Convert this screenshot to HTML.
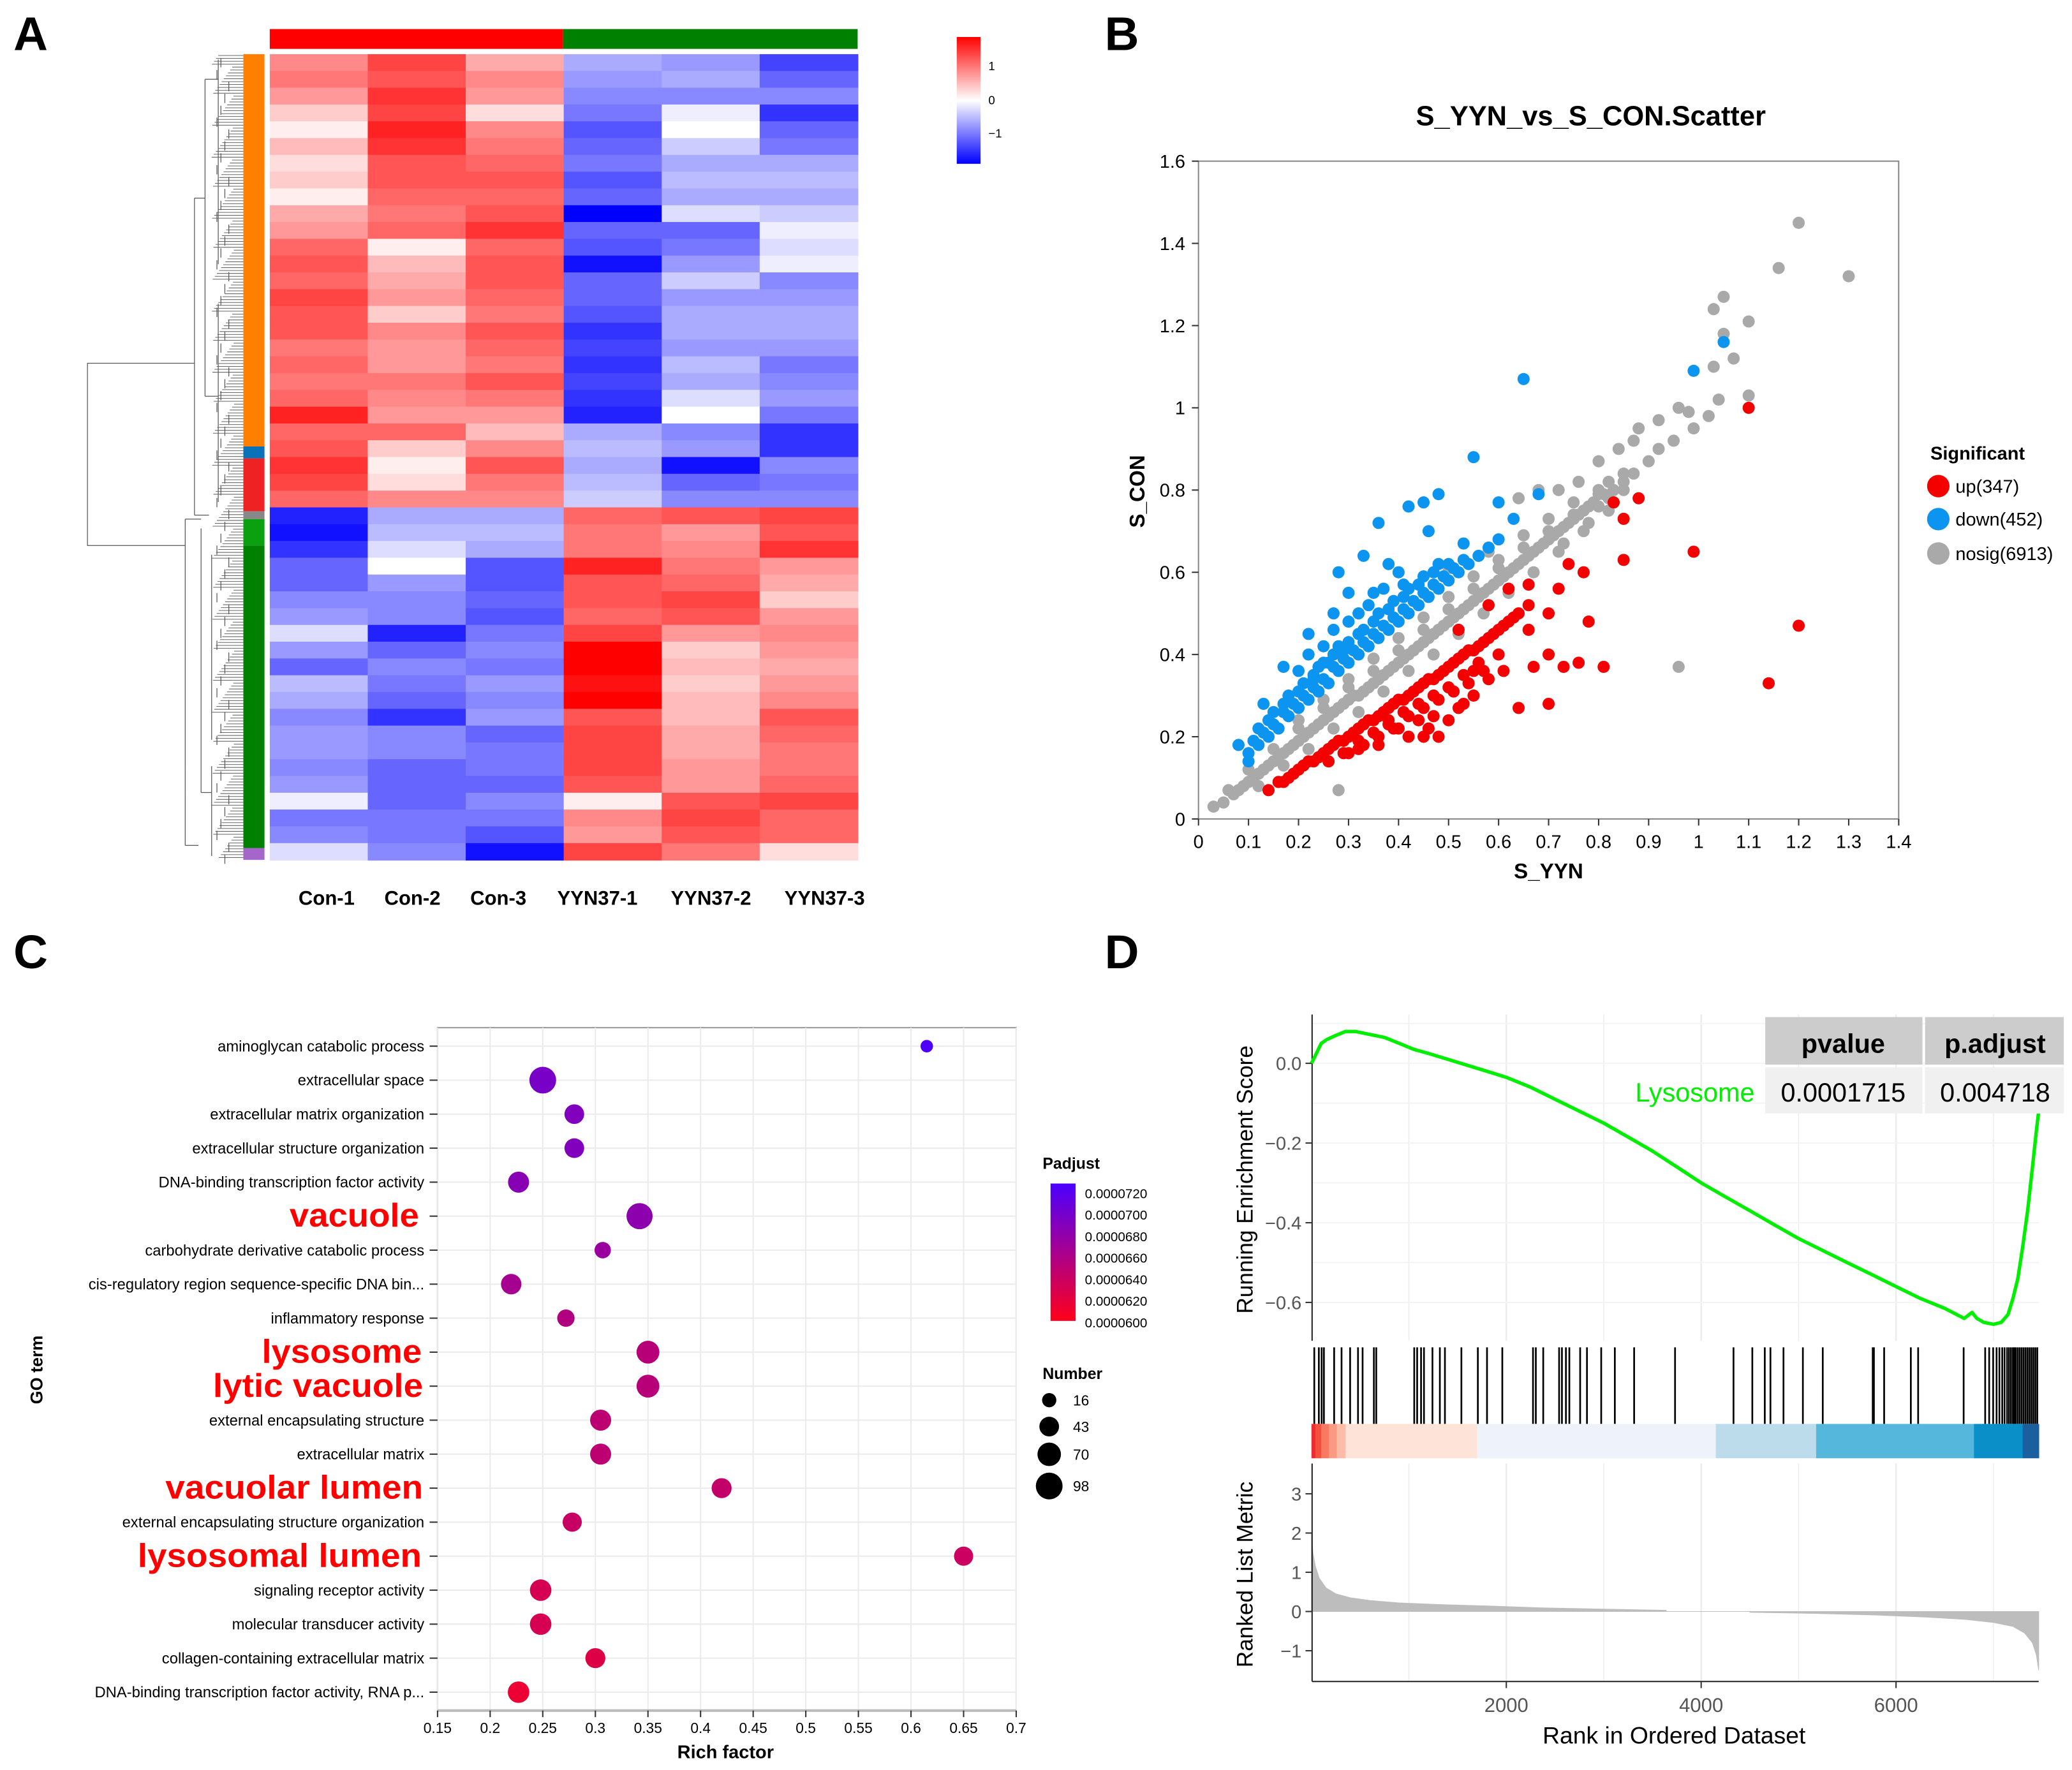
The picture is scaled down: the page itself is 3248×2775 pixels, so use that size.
<!DOCTYPE html>
<html><head><meta charset="utf-8">
<style>
html,body{margin:0;padding:0;background:#fff;}
svg{display:block;font-family:"Liberation Sans",sans-serif;}
</style></head>
<body>
<svg id="fig" width="3248" height="2775" viewBox="0 0 1568 1340" xmlns="http://www.w3.org/2000/svg">
<rect x="0" y="0" width="1568" height="1340" fill="#fff"/>
<g font-weight="bold" font-size="36" fill="#000">
<text x="10" y="38">A</text>
<text x="836" y="38">B</text>
<text x="10" y="733">C</text>
<text x="836" y="733">D</text>
</g>
<g id="pA"></g>
<g id="pB"></g>
<g id="pC"></g>
<g id="pD"></g>
</svg>
<script>
// ---------- Panel A data ----------
const heatSamples = ["Con-1","Con-2","Con-3","YYN37-1","YYN37-2","YYN37-3"];
const heatRows = [
[0.7,1.1,0.5,-0.5,-0.6,-1.1],[0.8,1.0,0.7,-0.6,-0.5,-0.9],[0.6,1.2,0.6,-0.7,-0.7,-0.7],
[0.3,1.1,0.2,-0.8,-0.1,-1.2],[0.1,1.3,0.7,-1.0,0.0,-0.9],[0.4,1.2,0.8,-0.9,-0.3,-0.8],
[0.2,1.0,0.9,-0.8,-0.5,-0.5],[0.3,1.0,1.0,-1.0,-0.4,-0.4],[0.1,0.9,0.9,-0.9,-0.5,-0.5],
[0.5,0.8,1.0,-1.5,-0.2,-0.3],[0.6,0.9,1.2,-0.9,-0.9,-0.1],[0.9,0.1,0.9,-1.0,-0.8,-0.2],
[1.0,0.4,1.0,-1.4,-0.6,-0.1],[0.9,0.5,1.0,-0.9,-0.3,-0.7],[1.1,0.6,0.9,-0.9,-0.6,-0.6],
[1.0,0.3,0.8,-1.0,-0.5,-0.5],[1.0,0.7,1.0,-1.2,-0.5,-0.5],[0.8,0.6,0.9,-1.1,-0.6,-0.6],
[0.9,0.6,0.8,-1.2,-0.4,-0.8],[0.8,0.8,1.0,-1.1,-0.5,-0.7],[0.9,0.7,0.8,-1.2,-0.2,-0.6],
[1.3,0.6,0.6,-1.3,0.0,-0.8],[0.9,0.9,0.4,-0.5,-0.7,-1.2],[1.0,0.3,0.7,-0.4,-0.6,-1.2],
[1.2,0.1,1.0,-0.5,-1.4,-0.7],[1.1,0.2,0.8,-0.4,-0.9,-0.8],[0.9,0.7,0.7,-0.3,-0.7,-0.7],
[-1.3,-0.5,-0.5,0.9,1.0,1.1],[-1.4,-0.4,-0.4,0.8,0.6,1.0],[-1.2,-0.2,-0.5,0.8,0.7,1.2],
[-0.9,0.0,-1.0,1.3,0.8,0.6],[-0.9,-0.6,-1.0,1.0,0.9,0.5],[-0.7,-0.7,-0.9,1.0,1.1,0.3],
[-0.6,-0.7,-1.0,0.9,1.0,0.6],[-0.2,-1.3,-0.8,1.1,0.6,0.7],[-0.6,-0.9,-0.7,1.5,0.3,0.6],
[-0.9,-0.7,-0.8,1.5,0.4,0.5],[-0.4,-0.8,-0.6,1.4,0.3,0.6],[-0.5,-0.9,-0.7,1.5,0.4,0.7],
[-0.7,-1.2,-0.6,1.0,0.4,1.0],[-0.6,-0.7,-0.9,1.1,0.5,0.9],[-0.6,-0.7,-0.8,1.1,0.5,0.8],
[-0.7,-0.9,-0.8,1.1,0.6,0.8],[-0.6,-0.9,-0.9,1.0,0.6,0.9],[-0.1,-0.9,-0.7,0.1,1.0,1.1],
[-0.8,-0.8,-0.8,0.7,1.1,0.9],[-0.7,-0.8,-1.0,0.6,1.0,0.9],[-0.2,-0.7,-1.4,1.1,0.8,0.2]
];
// ---------- Panel B data ----------
const grayPts = [[0.03,0.03],[0.05,0.04],[0.07,0.06],[0.09,0.08],[0.11,0.1],[0.13,0.12],[0.15,0.14],[0.17,0.16],[0.19,0.18],[0.21,0.2],[0.23,0.22],[0.25,0.24],[0.27,0.26],[0.29,0.28],[0.31,0.3],[0.33,0.31],[0.35,0.33],[0.37,0.35],[0.39,0.37],[0.41,0.39],[0.43,0.41],[0.45,0.43],[0.47,0.45],[0.49,0.47],[0.51,0.49],[0.53,0.51],[0.55,0.53],[0.57,0.55],[0.59,0.57],[0.61,0.59],[0.63,0.61],[0.65,0.63],[0.67,0.65],[0.69,0.67],[0.71,0.69],[0.73,0.71],[0.75,0.73],[0.77,0.75],[0.79,0.77],[0.81,0.79],[0.83,0.8],[0.85,0.82],[0.87,0.84],[0.9,0.87],
[0.1,0.12],[0.15,0.17],[0.2,0.22],[0.25,0.27],[0.3,0.32],[0.35,0.36],[0.4,0.41],[0.45,0.46],[0.5,0.51],[0.55,0.56],[0.6,0.61],[0.65,0.66],[0.7,0.7],[0.75,0.74],[0.8,0.79],[0.85,0.84],
[0.12,0.08],[0.17,0.13],[0.22,0.17],[0.27,0.22],[0.32,0.26],[0.37,0.31],[0.42,0.36],[0.47,0.4],[0.52,0.45],[0.57,0.5],[0.62,0.55],[0.67,0.6],[0.72,0.65],[0.77,0.7],[0.82,0.75],
[0.06,0.07],[0.08,0.07],[0.1,0.09],[0.12,0.11],[0.14,0.13],[0.16,0.15],[0.18,0.17],[0.2,0.19],[0.22,0.21],[0.24,0.23],[0.26,0.25],[0.28,0.27],[0.3,0.29],[0.32,0.3],[0.34,0.32],[0.36,0.34],[0.38,0.36],[0.4,0.38],[0.42,0.4],[0.44,0.42],[0.46,0.44],[0.48,0.46],[0.5,0.48],[0.52,0.5],[0.54,0.52],[0.56,0.54],[0.58,0.56],[0.6,0.58],[0.62,0.6],[0.64,0.62],[0.66,0.64],[0.68,0.66],[0.7,0.68],[0.72,0.7],[0.74,0.72],[0.76,0.74],[0.78,0.76],[0.8,0.76],[0.82,0.78],
[0.2,0.24],[0.3,0.34],[0.4,0.44],[0.5,0.54],[0.6,0.63],[0.7,0.73],[0.8,0.8],[0.65,0.69],[0.55,0.59],[0.45,0.49],[0.35,0.39],[0.25,0.29],[0.75,0.77],[0.85,0.8],[0.78,0.72],[0.73,0.67],[0.83,0.77],
[0.28,0.07],[0.96,0.37],[0.92,0.9],[0.95,0.92],[0.99,0.95],[1.02,0.98],[1.04,1.02],[1.1,1.03],[1.03,1.1],[1.07,1.12],[1.05,1.18],[1.1,1.21],[1.03,1.24],[1.05,1.27],[1.16,1.34],[1.2,1.45],[1.3,1.32],[0.98,0.99],[0.64,0.78],[0.68,0.8],[0.72,0.8],[0.76,0.82],[0.8,0.87],[0.84,0.9],[0.88,0.95],[0.92,0.97],[0.96,1.0],[0.87,0.92],[0.82,0.82],[0.58,0.65],[0.5,0.61]];
const bluePts = [[0.1,0.16],[0.12,0.18],[0.14,0.2],[0.16,0.22],[0.18,0.25],[0.2,0.27],[0.22,0.29],[0.24,0.31],[0.26,0.33],[0.28,0.36],[0.3,0.38],[0.32,0.4],[0.34,0.42],[0.36,0.44],[0.38,0.46],[0.4,0.48],[0.42,0.5],[0.44,0.52],[0.46,0.54],[0.48,0.56],[0.5,0.58],[0.52,0.6],[0.54,0.62],[0.12,0.22],[0.15,0.26],[0.18,0.3],[0.21,0.33],[0.24,0.37],[0.27,0.4],[0.3,0.43],[0.33,0.46],[0.36,0.5],[0.39,0.53],[0.42,0.56],[0.45,0.59],[0.48,0.62],[0.25,0.42],[0.3,0.48],[0.35,0.55],[0.4,0.6],[0.23,0.35],[0.28,0.42],
[0.11,0.19],[0.13,0.21],[0.15,0.23],[0.17,0.26],[0.19,0.28],[0.21,0.3],[0.23,0.32],[0.25,0.34],[0.27,0.37],[0.29,0.39],[0.31,0.41],[0.33,0.43],[0.35,0.45],[0.37,0.47],[0.39,0.49],[0.41,0.51],[0.43,0.53],[0.45,0.55],[0.47,0.57],[0.49,0.59],[0.51,0.61],[0.53,0.63],[0.14,0.24],[0.17,0.28],[0.2,0.31],[0.23,0.34],[0.26,0.38],[0.29,0.41],[0.32,0.45],[0.35,0.48],[0.38,0.51],[0.41,0.54],[0.44,0.57],[0.47,0.6],[0.5,0.62],[0.2,0.36],[0.25,0.38],[0.32,0.5],[0.37,0.56],[0.27,0.46],[0.22,0.4],[0.34,0.52],[0.56,0.64],[0.58,0.66],[0.6,0.68],
[0.65,1.07],[0.55,0.88],[1.05,1.16],[0.99,1.09],[0.42,0.76],[0.45,0.77],[0.48,0.79],[0.36,0.72],[0.33,0.64],[0.28,0.6],[0.27,0.5],[0.22,0.45],[0.17,0.37],[0.13,0.28],[0.08,0.18],[0.38,0.62],[0.46,0.7],[0.6,0.77],[0.63,0.73],[0.68,0.79],[0.53,0.67],[0.41,0.57],[0.3,0.55],[0.1,0.14]];
const redPts = [[0.18,0.1],[0.2,0.12],[0.22,0.14],[0.24,0.15],[0.26,0.17],[0.28,0.19],[0.3,0.2],[0.32,0.22],[0.34,0.24],[0.36,0.25],[0.38,0.27],[0.4,0.29],[0.42,0.3],[0.44,0.32],[0.46,0.34],[0.48,0.35],[0.5,0.37],[0.52,0.39],[0.54,0.41],[0.56,0.42],[0.58,0.44],[0.6,0.46],[0.62,0.48],[0.64,0.5],[0.66,0.52],
[0.3,0.16],[0.33,0.18],[0.36,0.2],[0.39,0.22],[0.42,0.25],[0.45,0.27],[0.48,0.29],[0.51,0.31],[0.54,0.33],[0.57,0.36],[0.4,0.22],[0.45,0.2],[0.5,0.24],[0.55,0.3],[0.47,0.25],[0.53,0.28],[0.14,0.07],[0.16,0.09],
[0.17,0.09],[0.19,0.11],[0.21,0.13],[0.23,0.14],[0.25,0.16],[0.27,0.18],[0.29,0.19],[0.31,0.21],[0.33,0.23],[0.35,0.24],[0.37,0.26],[0.39,0.28],[0.41,0.29],[0.43,0.31],[0.45,0.33],[0.47,0.34],[0.49,0.36],[0.51,0.38],[0.53,0.4],[0.55,0.41],[0.57,0.43],[0.59,0.45],[0.61,0.47],[0.63,0.49],[0.26,0.14],[0.29,0.16],[0.32,0.19],[0.35,0.21],[0.38,0.23],[0.41,0.26],[0.44,0.28],[0.47,0.3],[0.5,0.32],[0.53,0.35],[0.56,0.38],[0.36,0.18],[0.42,0.2],[0.38,0.24],[0.44,0.24],[0.46,0.22],[0.52,0.27],[0.58,0.34],[0.55,0.36],
[1.1,1.0],[1.2,0.47],[1.14,0.33],[0.99,0.65],[0.83,0.77],[0.88,0.78],[0.85,0.73],[0.85,0.63],[0.78,0.48],[0.76,0.38],[0.73,0.37],[0.81,0.37],[0.7,0.4],[0.67,0.37],[0.64,0.27],[0.7,0.28],[0.61,0.36],[0.66,0.46],[0.7,0.5],[0.72,0.56],[0.77,0.6],[0.74,0.62],[0.66,0.57],[0.62,0.56],[0.58,0.52],[0.52,0.46],[0.48,0.2],[0.32,0.17],[0.6,0.4]];
const xTicksB = [0,0.1,0.2,0.3,0.4,0.5,0.6,0.7,0.8,0.9,1,1.1,1.2,1.3,1.4];
const yTicksB = [0,0.2,0.4,0.6,0.8,1,1.2,1.4,1.6];
// ---------- Panel C data ----------
const goTerms = ["aminoglycan catabolic process","extracellular space","extracellular matrix organization","extracellular structure organization","DNA-binding transcription factor activity","vacuole","carbohydrate derivative catabolic process","cis-regulatory region sequence-specific DNA bin...","inflammatory response","lysosome","lytic vacuole","external encapsulating structure","extracellular matrix","vacuolar lumen","external encapsulating structure organization","lysosomal lumen","signaling receptor activity","molecular transducer activity","collagen-containing extracellular matrix","DNA-binding transcription factor activity, RNA p..."];
const goHighlight = [0,0,0,0,0,1,0,0,0,1,1,0,0,1,0,1,0,0,0,0];
const richFactor = [0.615,0.25,0.28,0.28,0.227,0.342,0.307,0.22,0.272,0.35,0.35,0.305,0.305,0.42,0.278,0.65,0.248,0.248,0.3,0.227];
const geneNumber = [10,98,43,43,52,92,25,48,30,65,65,52,52,45,40,40,55,55,45,55];
const padjust = [0.0000718,0.0000690,0.0000685,0.0000685,0.0000680,0.0000676,0.0000668,0.0000660,0.0000652,0.0000648,0.0000648,0.0000645,0.0000645,0.0000640,0.0000637,0.0000635,0.0000628,0.0000628,0.0000622,0.0000612];
const xTicksC = [0.15,0.2,0.25,0.3,0.35,0.4,0.45,0.5,0.55,0.6,0.65,0.7];
const padjTicks = ["0.0000720","0.0000700","0.0000680","0.0000660","0.0000640","0.0000620","0.0000600"];
const numberLegend = [16,43,70,98];
// ---------- Panel D data ----------
const esRank = [0,40,100,160,250,350,450,550,650,750,900,1050,1200,1400,1600,1800,2000,2250,2500,2750,3000,3250,3500,3750,4000,4250,4500,4750,5000,5250,5500,5750,6000,6250,6500,6700,6780,6830,6900,7000,7080,7150,7200,7250,7300,7350,7400,7440,7465];
const esScore = [0.0,0.02,0.05,0.06,0.07,0.08,0.08,0.075,0.07,0.065,0.05,0.035,0.025,0.01,-0.005,-0.02,-0.035,-0.06,-0.09,-0.12,-0.15,-0.185,-0.22,-0.26,-0.3,-0.335,-0.37,-0.405,-0.44,-0.47,-0.5,-0.53,-0.56,-0.59,-0.615,-0.64,-0.625,-0.64,-0.65,-0.655,-0.65,-0.63,-0.59,-0.54,-0.46,-0.37,-0.26,-0.17,-0.12];
const hitRanks = [29,76,105,128,233,309,397,478,525,641,665,1055,1085,1125,1155,1242,1318,1370,1539,1708,1802,1959,2274,2303,2379,2542,2571,2612,2647,2758,2828,2974,3114,3312,3732,4332,4525,4653,4711,4845,5044,5248,5761,5773,5878,6152,6227,6694,6915,6956,6997,7032,7061,7090,7114,7140,7160,7180,7200,7215,7230,7250,7270,7290,7310,7330,7350,7370,7390,7410,7430,7450];
const bandStart = [0,40,100,180,260,350,1700,4150,5180,6800,7300];
const bandColor = ["#ee2b30","#f4503e","#f97a62","#fb9a82","#fcbca6","#fde3d8","#eef3fb","#bcdcec","#55b7dc","#0b8fc8","#1b5f9f"];
const metricRank = [0,15,40,80,150,250,400,600,900,1300,1800,2400,3000,3640,3641,4499,4500,5200,5800,6300,6700,7000,7200,7320,7400,7440,7465];
const metricVal = [2.0,1.5,1.15,0.85,0.6,0.45,0.35,0.28,0.22,0.18,0.14,0.09,0.06,0.03,0,0,-0.02,-0.05,-0.09,-0.14,-0.2,-0.28,-0.38,-0.55,-0.8,-1.1,-1.5];
const rankTicks = [2000,4000,6000];
const esTicks = [0.0,-0.2,-0.4,-0.6];
const metricTicks = [3,2,1,0,-1];

const NS="http://www.w3.org/2000/svg";
function mk(parent,tag,attrs,txt){const e=document.createElementNS(NS,tag);for(const k in attrs)e.setAttribute(k,attrs[k]);if(txt!==undefined)e.textContent=txt;parent.appendChild(e);return e;}

// ===== Panel A =====
(function(){
const g=document.getElementById('pA');
const x0=204,x1=649,y0=41,y1=651;
const cw=(x1-x0)/heatSamples.length, rh=(y1-y0)/heatRows.length;
function col(v){v=Math.max(-1.5,Math.min(1.5,v))/1.5;const t=Math.abs(v);const w=Math.round(255*(1-t));return v>=0?`rgb(255,${w},${w})`:`rgb(${w},${w},255)`;}
heatRows.forEach((row,i)=>{row.forEach((v,j)=>{
 const r=mk(g,'rect',{x:x0+j*cw,y:y0+i*rh,width:cw+0.5,height:rh+0.5,fill:col(v)});
 
 
});});
let t=mk(g,'rect',{x:204,y:22,width:222,height:15,fill:'#ff0000'});
t=mk(g,'rect',{x:426,y:22,width:223,height:15,fill:'#008000'});
const side=[[41,338,'#ff8000'],[338,347,'#0a72b8'],[347,387,'#ee2222'],[387,393,'#888'],[393,413,'#0aa010'],[413,642,'#008000'],[642,651,'#a466c8']];
side.forEach(s=>{const r=mk(g,'rect',{x:184,y:s[0],width:16,height:s[1]-s[0],fill:s[2]});});
const d=mk(g,'g',{stroke:'#555','stroke-width':0.6,fill:'none'});
mk(d,'path',{d:'M147,275 H66 V413 H140 M147,150 V390 M140,393 V640 M147,150 H155 M147,390 H158 M140,393 H152 M140,640 H150 M155,60 V300 M152,400 V600 M155,60 H165 M155,300 H165 M152,600 H160 M165,45 V200 M165,230 V380 M160,420 V560 M160,580 V648'});
for(let y=42;y<651;y+=2.2){const L=160+((y*7)%17);mk(d,'line',{x1:L,y1:y,x2:184,y2:y,stroke:'#666','stroke-width':0.5});}
for(let y=44;y<651;y+=9){const L=163+((y*5)%12);mk(d,'line',{x1:L,y1:y,x2:L,y2:y+7});}
const lg=mk(g,'defs',{});const grd=mk(lg,'linearGradient',{id:'hg',x1:0,y1:0,x2:0,y2:1});
mk(grd,'stop',{offset:'0',"stop-color":'#ff0000'});mk(grd,'stop',{offset:'0.5',"stop-color":'#ffffff'});mk(grd,'stop',{offset:'1',"stop-color":'#0000ff'});
t=mk(g,'rect',{x:724,y:28,width:18,height:96,fill:'url(#hg)'});
[['1',53],['0',79],['−1',104]].forEach(a=>{const e=mk(g,'text',{x:748,y:a[1],'font-size':9},a[0]);});
const cx=[247,312,377,452,538,624];
heatSamples.forEach((s,i)=>{const e=mk(g,'text',{x:cx[i],y:685,'font-size':15,'font-weight':'bold','text-anchor':'middle'},s);});
})();

// ===== Panel B =====
(function(){
const g=document.getElementById('pB');
const X=v=>907+v*378.6, Y=v=>620-v*311.25;
let e=mk(g,'text',{x:1204,y:95,'font-size':21,'font-weight':'bold','text-anchor':'middle'},'S_YYN_vs_S_CON.Scatter');
e=mk(g,'rect',{x:907,y:122,width:530,height:498,fill:'none',stroke:'#888','stroke-width':1});
xTicksB.forEach(v=>{mk(g,'line',{x1:X(v),y1:620,x2:X(v),y2:625,stroke:'#333'});const t=mk(g,'text',{x:X(v),y:642,'font-size':14,'text-anchor':'middle'},String(v));});
yTicksB.forEach(v=>{mk(g,'line',{x1:902,y1:Y(v),x2:907,y2:Y(v),stroke:'#333'});const t=mk(g,'text',{x:897,y:Y(v)+5,'font-size':14,'text-anchor':'end'},String(v));});
e=mk(g,'text',{x:1172,y:665,'font-size':16,'font-weight':'bold','text-anchor':'middle'},'S_YYN');
e=mk(g,'text',{x:866,y:372,'font-size':16,'font-weight':'bold','text-anchor':'middle',transform:'rotate(-90 866 372)'},'S_CON');
[[grayPts,'#a9a9a9'],[bluePts,'#0b94f0'],[redPts,'#f50000']].forEach(s=>{s[0].forEach(p=>{const c=mk(g,'circle',{cx:X(p[0]),cy:Y(p[1]),r:4.6,fill:s[1]});});});
e=mk(g,'text',{x:1461,y:348,'font-size':14,'font-weight':'bold'},'Significant');
[['up(347)','#f50000',368],['down(452)','#0b94f0',393],['nosig(6913)','#a9a9a9',419]].forEach(a=>{const c=mk(g,'circle',{cx:1467,cy:a[2],r:8.5,fill:a[1]});const t=mk(g,'text',{x:1480,y:a[2]+5,'font-size':14},a[0]);});
})();

// ===== Panel C =====
(function(){
const g=document.getElementById('pC');
const X=v=>331+(v-0.15)*796.4, Yr=i=>792+i*25.74;
const R=n=>2.2+Math.sqrt(n)*0.8;
let e=mk(g,'rect',{x:331,y:778,width:438,height:517,fill:'#fff',stroke:'#999','stroke-width':1});
xTicksC.forEach(v=>{mk(g,'line',{x1:X(v),y1:778,x2:X(v),y2:1295,stroke:'#ebebeb'});});
goTerms.forEach((s,i)=>{mk(g,'line',{x1:331,y1:Yr(i),x2:769,y2:Yr(i),stroke:'#ebebeb'});});
mk(g,'line',{x1:331,y1:1295,x2:769,y2:1295,stroke:'#bbb','stroke-width':2});
xTicksC.forEach(v=>{mk(g,'line',{x1:X(v),y1:1295,x2:X(v),y2:1300,stroke:'#333'});const t=mk(g,'text',{x:X(v),y:1312,'font-size':11,'text-anchor':'middle'},String(v));});
const big={5:[219,98],9:[198,121],10:[161,159],13:[125,195],15:[104,215]};
goTerms.forEach((s,i)=>{mk(g,'line',{x1:325,y1:Yr(i),x2:331,y2:Yr(i),stroke:'#333'});
 let t;
 if(goHighlight[i]){const b=big[i];t=mk(g,'text',{x:b[0],y:Yr(i)+8,'font-size':25,'font-weight':'bold',fill:'#ff0000',textLength:b[1],lengthAdjust:'spacingAndGlyphs'},s);}
 else t=mk(g,'text',{x:321,y:Yr(i)+4,'font-size':11.5,'text-anchor':'end'},s);
 
});
const pmin=0.00006,pmax=0.000072;
function pc(p){const t=(p-pmin)/(pmax-pmin);return `rgb(${Math.round(255-t*180)},0,${Math.round(30+t*225)})`;}
richFactor.forEach((v,i)=>{const c=mk(g,'circle',{cx:X(v),cy:Yr(i),r:R(geneNumber[i]),fill:pc(padjust[i])});});
e=mk(g,'text',{x:549,y:1331,'font-size':14,'font-weight':'bold','text-anchor':'middle'},'Rich factor');
e=mk(g,'text',{x:32,y:1037,'font-size':13,'font-weight':'bold','text-anchor':'middle',transform:'rotate(-90 32 1037)'},'GO term');
e=mk(g,'text',{x:789,y:885,'font-size':12,'font-weight':'bold'},'Padjust');
const df=mk(g,'defs',{});const gr=mk(df,'linearGradient',{id:'pg',x1:0,y1:0,x2:0,y2:1});
mk(gr,'stop',{offset:'0','stop-color':'#4b00ff'});mk(gr,'stop',{offset:'0.5','stop-color':'#a8008e'});mk(gr,'stop',{offset:'1','stop-color':'#ff001a'});
e=mk(g,'rect',{x:795,y:896,width:19,height:104,fill:'url(#pg)'});
padjTicks.forEach((s,i)=>{const t=mk(g,'text',{x:821,y:907+i*16.3,'font-size':10},s);});
e=mk(g,'text',{x:789,y:1044,'font-size':12,'font-weight':'bold'},'Number');
const ly=[1060,1080,1101,1125];
numberLegend.forEach((n,i)=>{const c=mk(g,'circle',{cx:794,cy:ly[i],r:R(n),fill:'#000'});const t=mk(g,'text',{x:812,y:ly[i]+4,'font-size':11},String(n));});
})();

// ===== Panel D =====
(function(){
const g=document.getElementById('pD');
const X=r=>992.5+r*0.07375;
const Yes=v=>805-v*301.7;
const Ym=v=>1220-v*29.7;
[1000,2000,3000,4000,5000,6000,7000].forEach(r=>{const w=r%2000===0?1.2:0.7;mk(g,'line',{x1:X(r),y1:768,x2:X(r),y2:1015,stroke:'#ececec','stroke-width':w});mk(g,'line',{x1:X(r),y1:1108,x2:X(r),y2:1273,stroke:'#ececec','stroke-width':w});});
[0.1,0.0,-0.1,-0.2,-0.3,-0.4,-0.5,-0.6].forEach(v=>{mk(g,'line',{x1:993,y1:Yes(v),x2:1543,y2:Yes(v),stroke:'#f4f4f4'});});
mk(g,'line',{x1:993,y1:768,x2:993,y2:1015,stroke:'#222'});
esTicks.forEach(v=>{mk(g,'line',{x1:988,y1:Yes(v),x2:993,y2:Yes(v),stroke:'#333'});const t=mk(g,'text',{x:985,y:Yes(v)+5,'font-size':14,fill:'#555','text-anchor':'end'},v===0?'0.0':v.toFixed(1).replace('-','−'));});
let d='';esRank.forEach((r,i)=>{d+=(i?'L':'M')+X(r).toFixed(1)+','+Yes(esScore[i]).toFixed(1);});
let e=mk(g,'path',{d:d,fill:'none',stroke:'#00ee00','stroke-width':2.6,'stroke-linejoin':'round'});
[[1336,770,119,36,'#cccccc'],[1457,770,105,36,'#cccccc'],[1336,808,119,35,'#f0f0f0'],[1457,808,105,35,'#f0f0f0']].forEach(c=>{const r=mk(g,'rect',{x:c[0],y:c[1],width:c[2],height:c[3],fill:c[4]});});
[['pvalue',1395,797,true],['p.adjust',1510,797,true],['0.0001715',1395,834,false],['0.004718',1510,834,false]].forEach(a=>{const t=mk(g,'text',{x:a[1],y:a[2],'font-size':20,'font-weight':a[3]?'bold':'normal','text-anchor':'middle'},a[0]);});
e=mk(g,'text',{x:1328,y:834,'font-size':20,fill:'#00ee00','text-anchor':'end'},'Lysosome');
e=mk(g,'text',{x:948,y:893,'font-size':17,'text-anchor':'middle',transform:'rotate(-90 948 893)'},'Running Enrichment Score');
hitRanks.forEach(r=>{const l=mk(g,'line',{x1:X(r),y1:1020,x2:X(r),y2:1078,stroke:'#000','stroke-width':1.3});});
bandStart.forEach((s,i)=>{const en=i<bandStart.length-1?bandStart[i+1]:7465;const r=mk(g,'rect',{x:X(s),y:1078,width:X(en)-X(s)+0.3,height:26,fill:bandColor[i]});});
let p='M'+X(metricRank[0])+','+Ym(0);metricRank.forEach((r,i)=>{p+='L'+X(r).toFixed(1)+','+Ym(metricVal[i]).toFixed(1);});p+='L'+X(metricRank[metricRank.length-1])+','+Ym(0)+'Z';
e=mk(g,'path',{d:p,fill:'#bdbdbd',stroke:'#bdbdbd','stroke-width':0.5});
mk(g,'line',{x1:993,y1:1108,x2:993,y2:1273,stroke:'#222'});
mk(g,'line',{x1:993,y1:1273,x2:1543,y2:1273,stroke:'#222'});
metricTicks.forEach(v=>{mk(g,'line',{x1:988,y1:Ym(v),x2:993,y2:Ym(v),stroke:'#333'});const t=mk(g,'text',{x:985,y:Ym(v)+5,'font-size':14,fill:'#555','text-anchor':'end'},String(v).replace('-','−'));});
rankTicks.forEach(r=>{mk(g,'line',{x1:X(r),y1:1273,x2:X(r),y2:1278,stroke:'#333'});const t=mk(g,'text',{x:X(r),y:1296,'font-size':15,fill:'#555','text-anchor':'middle'},String(r));});
e=mk(g,'text',{x:1267,y:1320,'font-size':18,'text-anchor':'middle'},'Rank in Ordered Dataset');
e=mk(g,'text',{x:948,y:1192,'font-size':17,'text-anchor':'middle',transform:'rotate(-90 948 1192)'},'Ranked List Metric');
})();
</script>
</body></html>
